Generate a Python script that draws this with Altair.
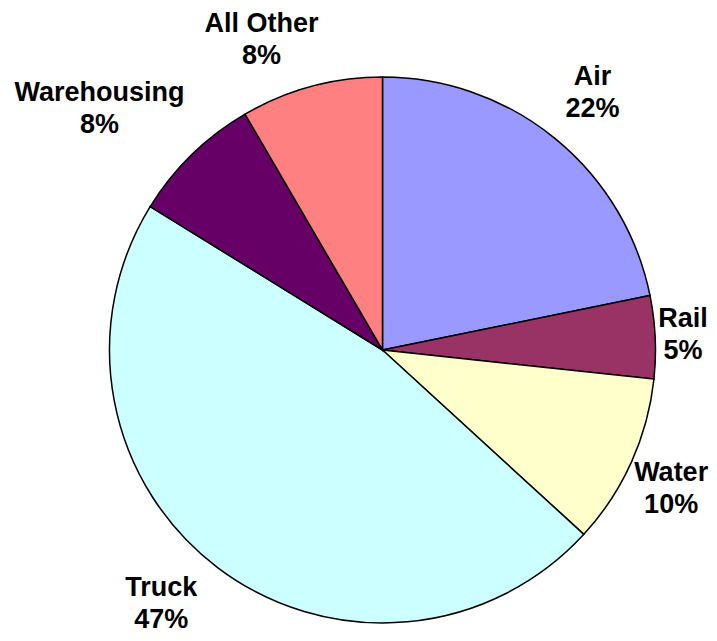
import altair as alt
import pandas as pd

# ---- data ----
categories = ["Air", "Rail", "Water", "Truck", "Warehousing", "All Other"]
shares = [21.8, 4.9, 10.1, 47.0, 7.8, 8.4]
colors = ["#9999FF", "#993366", "#FFFFCC", "#CCFFFF", "#660066", "#FF8080"]

df = pd.DataFrame({"category": categories, "value": shares,
                   "order": list(range(len(categories)))})

# ---- layout constants ----
W, H = 701, 625
CX, CY, R = 374.5, 342, 273
GAP = 21
HALF_H = 26
FONT = 27
LINE_H = 32
K = FONT / 26.0
SEP = 2 * LINE_H + 5


def width_expr(s):
    n = f"length({s})"
    narrow = f"({n} - length(replace({s}, regexp('[ilrt ]','g'), '')))"
    wide = f"({n} - length(replace({s}, regexp('[W%]','g'), '')))"
    return f"({K}*(15.5*{n} - 7*{narrow} + 7.5*{wide}))"


base = alt.Chart(df)

pie = base.mark_arc(radius=R, stroke="black", strokeWidth=1.5).encode(
    theta=alt.Theta("value:Q", stack=True),
    color=alt.Color("category:N",
                    scale=alt.Scale(domain=categories, range=colors),
                    legend=None),
    order=alt.Order("order:Q", sort="ascending"),
    x=alt.value(CX),
    y=alt.value(CY),
)

ymin = HALF_H + 5.5
ymax = H - HALF_H - 3

labels = (
    base.transform_joinaggregate(total="sum(value)")
    .transform_window(cum="sum(value)", sort=[alt.SortField("order")],
                      frame=[None, 0])
    .transform_calculate(pct="format(datum.value / datum.total, '.0%')")
    .transform_calculate(mid="2*PI*(datum.cum - datum.value/2)/datum.total")
    .transform_calculate(
        w=f"max({width_expr('datum.category')}, {width_expr('datum.pct')})")
    .transform_calculate(
        r=f"{R + GAP} + abs(sin(datum.mid))*datum.w/2 + abs(cos(datum.mid))*{HALF_H}")
    .transform_calculate(sg="sin(datum.mid) < 0 ? -1 : 1")
    .transform_calculate(y0=f"{CY} - datum.r*cos(datum.mid)")
    .transform_calculate(
        th=(f"datum.y0 < {ymin} ? datum.sg*acos(({CY} - {ymin})/datum.r) : "
            f"(datum.y0 > {ymax} ? datum.sg*acos(({CY} - {ymax})/datum.r) : datum.mid)"))
    .transform_calculate(
        lx=f"clamp({CX} + datum.r*sin(datum.th), datum.w/2 + 2, {W} - datum.w/2 - 1)")
    .transform_calculate(ly=f"{CY} - datum.r*cos(datum.th)")
    # avoid overlap with the following label (counter-clockwise neighbour)
    .transform_window(nlx="lead(lx)", nly="lead(ly)", nw="lead(w)",
                      sort=[alt.SortField("order")])
    .transform_calculate(
        coll=(f"isValid(datum.nlx) && datum.sg < 0 && "
              f"abs(datum.lx - datum.nlx) < (datum.w + datum.nw)/2 + 8 && "
              f"abs(datum.ly - datum.nly) < {SEP}"))
    .transform_calculate(fy=f"datum.coll ? datum.nly + {SEP} : datum.ly")
    .transform_calculate(
        fth=f"datum.coll ? datum.sg*acos(({CY} - datum.fy)/datum.r) : datum.th")
    .transform_calculate(
        fx=(f"datum.coll ? clamp({CX} + datum.r*sin(datum.fth), datum.w/2 + 2, "
            f"{W} - datum.w/2) : datum.lx"))
    .transform_calculate(label="[datum.category, datum.pct]")
    .mark_text(font="Liberation Sans", fontWeight="bold", fontSize=FONT,
               lineHeight=LINE_H, align="center", baseline="middle",
               color="black", dy=-LINE_H / 2)
    .encode(
        x=alt.X("fx:Q", scale=None, axis=None),
        y=alt.Y("fy:Q", scale=None, axis=None),
        text=alt.Text("label:N"),
    )
)

chart = (
    alt.layer(pie, labels)
    .properties(width=W, height=H, autosize=alt.AutoSizeParams(type="none"),
                padding=0)
    .configure_view(stroke=None)
)

chart.save("out.html", embed_options={"renderer": "svg", "actions": False})
